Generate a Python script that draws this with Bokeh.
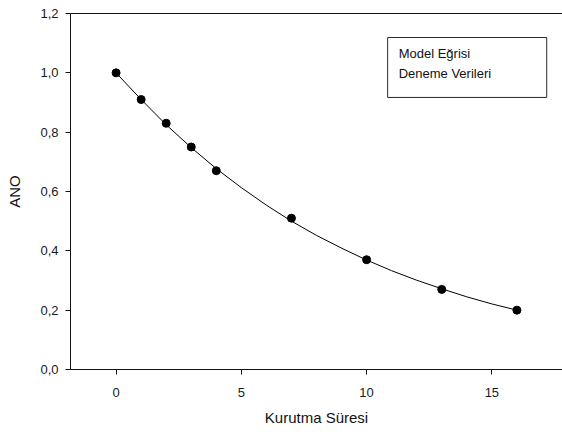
from bokeh.plotting import figure
from bokeh.models import (FixedTicker, LinearAxis, Range1d, Label, BoxAnnotation)
from bokeh.embed import file_html
from bokeh.resources import INLINE

# Trial data: moisture ratio (ANO) vs drying time
drying_time = [0, 1, 2, 3, 4, 7, 10, 13, 16]
ano_measured = [1.0, 0.91, 0.83, 0.75, 0.67, 0.51, 0.37, 0.27, 0.20]

# Model curve values at each time step
model_time = [0, 1, 2, 3, 4, 5, 6, 7, 8, 9, 10, 11, 12, 13, 14, 15, 16]
model_ano = [1.0, 0.91, 0.825, 0.748, 0.677, 0.613, 0.554, 0.50, 0.452,
             0.409, 0.369, 0.333, 0.301, 0.272, 0.245, 0.221, 0.20]

x_ticks = [0, 5, 10, 15]
y_ticks = [0.0, 0.2, 0.4, 0.6, 0.8, 1.0, 1.2]
y_tick_labels = ["0,0", "0,2", "0,4", "0,6", "0,8", "1,0", "1,2"]

legend_labels = ["Model Eğrisi", "Deneme Verileri"]

FONT = "Liberation Sans"

p = figure(width=562, height=435, output_backend="svg", toolbar_location=None,
           x_range=Range1d(-1.82, 17.82), y_range=Range1d(0, 1.2),
           x_axis_label="Kurutma Süresi", y_axis_label="ANO",
           min_border_left=70, min_border_right=0, min_border_top=13,
           min_border_bottom=66)
p.grid.visible = False
p.outline_line_color = None
p.background_fill_color = "white"
p.border_fill_color = "white"

for ax in (p.xaxis[0], p.yaxis[0]):
    ax.axis_line_color = "#111111"
    ax.axis_line_width = 1
    ax.major_tick_line_color = "#111111"
    ax.major_tick_in = 0
    ax.major_tick_out = 5
    ax.minor_tick_line_color = None
    ax.major_label_text_font = FONT
    ax.major_label_text_font_size = "13px"
    ax.major_label_text_color = "#1a1a1a"
    ax.axis_label_text_font = FONT
    ax.axis_label_text_font_size = "15px"
    ax.axis_label_text_font_style = "normal"
    ax.axis_label_text_color = "#111111"

p.xaxis[0].ticker = FixedTicker(ticks=x_ticks)
p.xaxis[0].major_label_standoff = 13
p.xaxis[0].axis_label_standoff = 9
p.yaxis[0].ticker = FixedTicker(ticks=y_ticks)
p.yaxis[0].major_label_overrides = {t: s for t, s in zip(y_ticks, y_tick_labels)}
p.yaxis[0].major_label_standoff = 7
p.yaxis[0].axis_label_standoff = 14

# top frame line only
top = LinearAxis(ticker=FixedTicker(ticks=[]), major_tick_out=0, major_tick_in=0,
                 minor_tick_out=0, minor_tick_in=0, major_label_text_font_size="0px",
                 major_label_standoff=0, axis_line_color="#111111")
p.add_layout(top, "above")

# model curve and trial points
p.line(model_time, model_ano, line_color="black", line_width=1)
p.scatter(drying_time, ano_measured, size=8, fill_color="black", line_color="black")

# legend box (text only)
p.add_layout(BoxAnnotation(left=10.84, right=17.19, bottom=0.917, top=1.119,
                           fill_color="white", fill_alpha=1.0,
                           line_color="#2a2a2a", line_alpha=1.0, line_width=1))
for lbl, yv in zip(legend_labels, [1.065, 0.998]):
    p.add_layout(Label(x=11.28, y=yv, text=lbl, text_font=FONT,
                       text_font_size="13px", text_color="#111111",
                       text_baseline="middle"))

open("out.html", "w").write(file_html(p, INLINE))
